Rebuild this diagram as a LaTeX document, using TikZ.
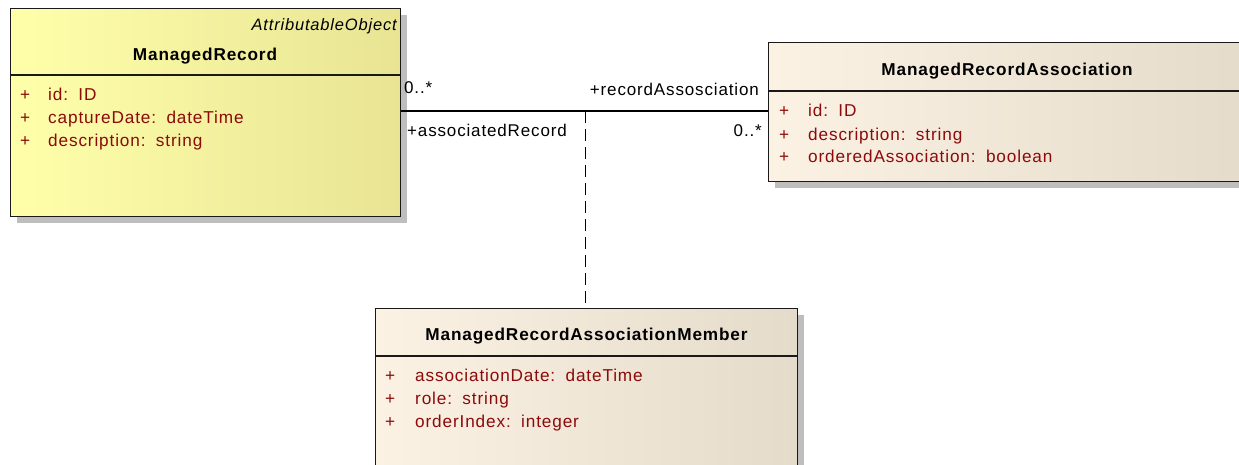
\documentclass[tikz,border=0pt]{standalone}
\usepackage{fontspec}
\usetikzlibrary{shadows}
\newfontfamily\umlfont{Liberation Sans}[LetterSpace=5]
\definecolor{attrred}{RGB}{140,10,10}
\definecolor{yelL}{RGB}{255,255,170}
\definecolor{yelR}{RGB}{232,228,148}
\definecolor{begL}{RGB}{252,242,228}
\definecolor{begR}{RGB}{229,219,202}
\definecolor{shad}{RGB}{190,190,190}
\tikzset{
  classbox/.style={draw=black!90, line width=1.3pt, anchor=north west, inner sep=0,
    drop shadow={shadow xshift=6pt, shadow yshift=-6pt, fill=shad, opacity=1}},
  yellowbox/.style={classbox, left color=yelL, right color=yelR},
  beigebox/.style={classbox, left color=begL, right color=begR},
  sep/.style={draw=black!90, line width=1.2pt},
  title/.style={anchor=base, inner sep=0, font=\umlfont\bfseries\fontsize{17.2}{20}\selectfont},
  stereo/.style={anchor=base east, inner sep=0, font=\umlfont\itshape\fontsize{16.5}{20}\selectfont},
  plus/.style={anchor=base west, inner sep=0, text=attrred, font=\umlfont\fontsize{17.2}{20}\selectfont},
  attr/.style={anchor=base west, inner sep=0, text=attrred, font=\umlfont\fontsize{17.2}{20}\selectfont},
  lbl/.style={inner sep=0, font=\umlfont\fontsize{17}{20}\selectfont},
  assoc/.style={draw=black, line width=1.2pt},
  dashedline/.style={draw=black, line width=1pt, dash pattern=on 12pt off 6pt}
}
\begin{document}
\begin{tikzpicture}[x=1pt,y=-1pt]
\useasboundingbox (0,0) rectangle (1239,464);
\clip (0,0) rectangle (1239,464);
\fill[white] (0,0) rectangle (1239,464);

% ManagedRecord
\node[yellowbox, minimum width=390pt, minimum height=208pt] (mr) at (10,8) {};
\draw[sep] (mr.west |- 0,75) -- (mr.east |- 0,75);
\node[stereo] (mrs) at (397,30) {AttributableObject};
\node[title] (mrt) at (205,60) {ManagedRecord};
\node[plus] (mrp1) at (20,100) {+};
\node[attr] (mra1) at (48,100) {id: \,ID};
\node[plus] (mrp2) at (20,123.3) {+};
\node[attr] (mra2) at (48,123.3) {captureDate: \,dateTime};
\node[plus] (mrp3) at (20,146.7) {+};
\node[attr] (mra3) at (48,146.7) {description: \,string};

% ManagedRecordAssociation
\node[beigebox, minimum width=480pt, minimum height=139pt] (mra) at (768,42) {};
\draw[sep] (mra.west |- 0,91) -- (mra.east |- 0,91);
\node[title] (mrat) at (1007,75) {ManagedRecordAssociation};
\node[plus] (mrap1) at (779,116.7) {+};
\node[attr] (mraa1) at (808,116.7) {id: \,ID};
\node[plus] (mrap2) at (779,140) {+};
\node[attr] (mraa2) at (808,140) {description: \,string};
\node[plus] (mrap3) at (779,162.3) {+};
\node[attr] (mraa3) at (808,162.3) {orderedAssociation: \,boolean};

% ManagedRecordAssociationMember
\node[beigebox, minimum width=422pt, minimum height=180pt] (mram) at (375,308) {};
\draw[sep] (mram.west |- 0,356) -- (mram.east |- 0,356);
\node[title] (mramt) at (586.5,340) {ManagedRecordAssociationMember};
\node[plus] (mramp1) at (385,381) {+};
\node[attr] (mrama1) at (415,381) {associationDate: \,dateTime};
\node[plus] (mramp2) at (385,404.3) {+};
\node[attr] (mrama2) at (415,404.3) {role: \,string};
\node[plus] (mramp3) at (385,427.7) {+};
\node[attr] (mrama3) at (415,427.7) {orderIndex: \,integer};

% association
\coordinate (aL) at (mr.east |- 0,111);
\coordinate (aR) at (mra.west |- 0,111);
\coordinate (aM) at (585,111);
\draw[assoc] (aL) -- (aR);
\draw[dashedline] (aM) -- (mram.north -| aM);

\node[lbl, anchor=base west] (m1) at (404,93.3) {0..*};
\node[lbl, anchor=base east] (r1) at (759,95) {+recordAssosciation};
\node[lbl, anchor=base west] (r2) at (407,136.7) {+associatedRecord};
\node[lbl, anchor=base east] (m2) at (762,136.7) {0..*};
\end{tikzpicture}
\end{document}
